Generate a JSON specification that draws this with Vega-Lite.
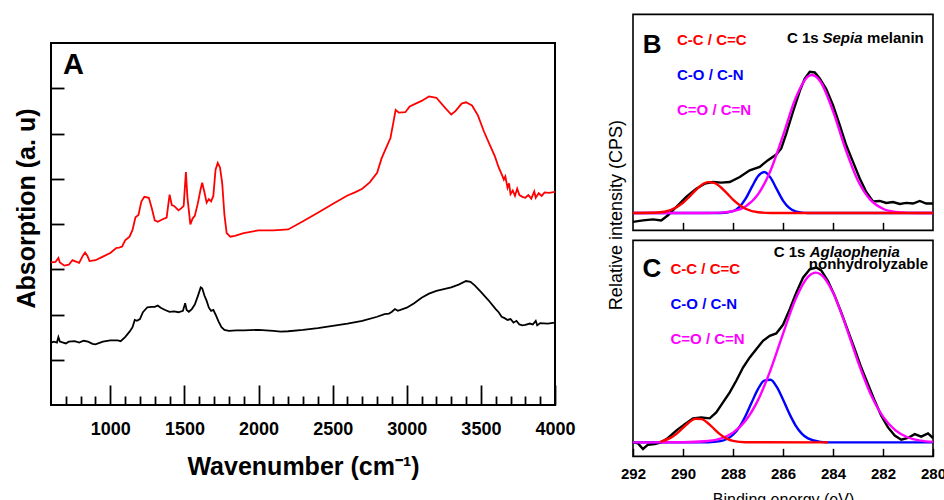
{
  "$schema": "https://vega.github.io/schema/vega-lite/v6.json",
  "padding": {"left": 12, "top": 13, "right": 0, "bottom": 0},
  "background": "white",
  "config": {
    "font": "Liberation Sans",
    "view": {"stroke": "black", "strokeWidth": 1.8},
    "axis": {"grid": false, "tickColor": "black", "labelColor": "black", "titleColor": "black", "domain": false}
  },
  "datasets": {
    "ftir": [
      {"sample": "Sample 1", "wavenumber": 600, "absorption": 3.15},
      {"sample": "Sample 1", "wavenumber": 630, "absorption": 3.16},
      {"sample": "Sample 1", "wavenumber": 650, "absorption": 3.25},
      {"sample": "Sample 1", "wavenumber": 660, "absorption": 3.15},
      {"sample": "Sample 1", "wavenumber": 690, "absorption": 3.08},
      {"sample": "Sample 1", "wavenumber": 720, "absorption": 3.1},
      {"sample": "Sample 1", "wavenumber": 745, "absorption": 3.2},
      {"sample": "Sample 1", "wavenumber": 760, "absorption": 3.18},
      {"sample": "Sample 1", "wavenumber": 790, "absorption": 3.14},
      {"sample": "Sample 1", "wavenumber": 815, "absorption": 3.3},
      {"sample": "Sample 1", "wavenumber": 830, "absorption": 3.37},
      {"sample": "Sample 1", "wavenumber": 845, "absorption": 3.3},
      {"sample": "Sample 1", "wavenumber": 860, "absorption": 3.18},
      {"sample": "Sample 1", "wavenumber": 900, "absorption": 3.2},
      {"sample": "Sample 1", "wavenumber": 950, "absorption": 3.28},
      {"sample": "Sample 1", "wavenumber": 1000, "absorption": 3.36},
      {"sample": "Sample 1", "wavenumber": 1040, "absorption": 3.47},
      {"sample": "Sample 1", "wavenumber": 1060, "absorption": 3.48},
      {"sample": "Sample 1", "wavenumber": 1080, "absorption": 3.5},
      {"sample": "Sample 1", "wavenumber": 1100, "absorption": 3.64},
      {"sample": "Sample 1", "wavenumber": 1130, "absorption": 3.72},
      {"sample": "Sample 1", "wavenumber": 1150, "absorption": 3.87},
      {"sample": "Sample 1", "wavenumber": 1170, "absorption": 4.15},
      {"sample": "Sample 1", "wavenumber": 1190, "absorption": 4.2},
      {"sample": "Sample 1", "wavenumber": 1210, "absorption": 4.5},
      {"sample": "Sample 1", "wavenumber": 1230, "absorption": 4.6},
      {"sample": "Sample 1", "wavenumber": 1260, "absorption": 4.58},
      {"sample": "Sample 1", "wavenumber": 1280, "absorption": 4.35},
      {"sample": "Sample 1", "wavenumber": 1300, "absorption": 4.08},
      {"sample": "Sample 1", "wavenumber": 1320, "absorption": 4.05},
      {"sample": "Sample 1", "wavenumber": 1350, "absorption": 4.1},
      {"sample": "Sample 1", "wavenumber": 1380, "absorption": 4.14},
      {"sample": "Sample 1", "wavenumber": 1400, "absorption": 4.65},
      {"sample": "Sample 1", "wavenumber": 1415, "absorption": 4.42},
      {"sample": "Sample 1", "wavenumber": 1430, "absorption": 4.4},
      {"sample": "Sample 1", "wavenumber": 1445, "absorption": 4.35},
      {"sample": "Sample 1", "wavenumber": 1460, "absorption": 4.3},
      {"sample": "Sample 1", "wavenumber": 1480, "absorption": 4.35},
      {"sample": "Sample 1", "wavenumber": 1495, "absorption": 4.4},
      {"sample": "Sample 1", "wavenumber": 1510, "absorption": 5.15},
      {"sample": "Sample 1", "wavenumber": 1520, "absorption": 4.6},
      {"sample": "Sample 1", "wavenumber": 1540, "absorption": 3.99},
      {"sample": "Sample 1", "wavenumber": 1555, "absorption": 4.12},
      {"sample": "Sample 1", "wavenumber": 1570, "absorption": 4.18},
      {"sample": "Sample 1", "wavenumber": 1590, "absorption": 4.45},
      {"sample": "Sample 1", "wavenumber": 1610, "absorption": 4.78},
      {"sample": "Sample 1", "wavenumber": 1620, "absorption": 4.91},
      {"sample": "Sample 1", "wavenumber": 1635, "absorption": 4.7},
      {"sample": "Sample 1", "wavenumber": 1650, "absorption": 4.47},
      {"sample": "Sample 1", "wavenumber": 1665, "absorption": 4.55},
      {"sample": "Sample 1", "wavenumber": 1680, "absorption": 4.5},
      {"sample": "Sample 1", "wavenumber": 1695, "absorption": 4.62},
      {"sample": "Sample 1", "wavenumber": 1710, "absorption": 5.2},
      {"sample": "Sample 1", "wavenumber": 1725, "absorption": 5.35},
      {"sample": "Sample 1", "wavenumber": 1740, "absorption": 5.25},
      {"sample": "Sample 1", "wavenumber": 1755, "absorption": 4.9},
      {"sample": "Sample 1", "wavenumber": 1770, "absorption": 4.2},
      {"sample": "Sample 1", "wavenumber": 1785, "absorption": 3.8},
      {"sample": "Sample 1", "wavenumber": 1810, "absorption": 3.72},
      {"sample": "Sample 1", "wavenumber": 1840, "absorption": 3.74},
      {"sample": "Sample 1", "wavenumber": 1900, "absorption": 3.8},
      {"sample": "Sample 1", "wavenumber": 2000, "absorption": 3.86},
      {"sample": "Sample 1", "wavenumber": 2100, "absorption": 3.86},
      {"sample": "Sample 1", "wavenumber": 2200, "absorption": 3.88},
      {"sample": "Sample 1", "wavenumber": 2300, "absorption": 4.06},
      {"sample": "Sample 1", "wavenumber": 2400, "absorption": 4.25},
      {"sample": "Sample 1", "wavenumber": 2500, "absorption": 4.44},
      {"sample": "Sample 1", "wavenumber": 2600, "absorption": 4.63},
      {"sample": "Sample 1", "wavenumber": 2650, "absorption": 4.7},
      {"sample": "Sample 1", "wavenumber": 2700, "absorption": 4.78},
      {"sample": "Sample 1", "wavenumber": 2750, "absorption": 4.92},
      {"sample": "Sample 1", "wavenumber": 2800, "absorption": 5.13},
      {"sample": "Sample 1", "wavenumber": 2830, "absorption": 5.45},
      {"sample": "Sample 1", "wavenumber": 2866, "absorption": 5.72},
      {"sample": "Sample 1", "wavenumber": 2890, "absorption": 5.9},
      {"sample": "Sample 1", "wavenumber": 2910, "absorption": 6.25},
      {"sample": "Sample 1", "wavenumber": 2925, "absorption": 6.52},
      {"sample": "Sample 1", "wavenumber": 2947, "absorption": 6.46},
      {"sample": "Sample 1", "wavenumber": 2990, "absorption": 6.47},
      {"sample": "Sample 1", "wavenumber": 3020, "absorption": 6.6},
      {"sample": "Sample 1", "wavenumber": 3060, "absorption": 6.66},
      {"sample": "Sample 1", "wavenumber": 3100, "absorption": 6.72},
      {"sample": "Sample 1", "wavenumber": 3150, "absorption": 6.82},
      {"sample": "Sample 1", "wavenumber": 3200, "absorption": 6.79},
      {"sample": "Sample 1", "wavenumber": 3250, "absorption": 6.6},
      {"sample": "Sample 1", "wavenumber": 3300, "absorption": 6.42},
      {"sample": "Sample 1", "wavenumber": 3330, "absorption": 6.5},
      {"sample": "Sample 1", "wavenumber": 3370, "absorption": 6.66},
      {"sample": "Sample 1", "wavenumber": 3400, "absorption": 6.69},
      {"sample": "Sample 1", "wavenumber": 3440, "absorption": 6.62},
      {"sample": "Sample 1", "wavenumber": 3480, "absorption": 6.4},
      {"sample": "Sample 1", "wavenumber": 3520, "absorption": 6.05},
      {"sample": "Sample 1", "wavenumber": 3560, "absorption": 5.75},
      {"sample": "Sample 1", "wavenumber": 3594, "absorption": 5.5},
      {"sample": "Sample 1", "wavenumber": 3620, "absorption": 5.25},
      {"sample": "Sample 1", "wavenumber": 3640, "absorption": 5.1},
      {"sample": "Sample 1", "wavenumber": 3655, "absorption": 4.98},
      {"sample": "Sample 1", "wavenumber": 3665, "absorption": 5.05},
      {"sample": "Sample 1", "wavenumber": 3680, "absorption": 4.8},
      {"sample": "Sample 1", "wavenumber": 3690, "absorption": 4.9},
      {"sample": "Sample 1", "wavenumber": 3700, "absorption": 4.66},
      {"sample": "Sample 1", "wavenumber": 3715, "absorption": 4.74},
      {"sample": "Sample 1", "wavenumber": 3730, "absorption": 4.62},
      {"sample": "Sample 1", "wavenumber": 3745, "absorption": 4.78},
      {"sample": "Sample 1", "wavenumber": 3760, "absorption": 4.64},
      {"sample": "Sample 1", "wavenumber": 3780, "absorption": 4.6},
      {"sample": "Sample 1", "wavenumber": 3800, "absorption": 4.58},
      {"sample": "Sample 1", "wavenumber": 3820, "absorption": 4.64},
      {"sample": "Sample 1", "wavenumber": 3840, "absorption": 4.56},
      {"sample": "Sample 1", "wavenumber": 3860, "absorption": 4.72},
      {"sample": "Sample 1", "wavenumber": 3870, "absorption": 4.58},
      {"sample": "Sample 1", "wavenumber": 3890, "absorption": 4.68},
      {"sample": "Sample 1", "wavenumber": 3910, "absorption": 4.62},
      {"sample": "Sample 1", "wavenumber": 3930, "absorption": 4.7},
      {"sample": "Sample 1", "wavenumber": 3960, "absorption": 4.69},
      {"sample": "Sample 1", "wavenumber": 4000, "absorption": 4.71},
      {"sample": "Sample 2", "wavenumber": 600, "absorption": 1.38},
      {"sample": "Sample 2", "wavenumber": 620, "absorption": 1.4},
      {"sample": "Sample 2", "wavenumber": 640, "absorption": 1.38},
      {"sample": "Sample 2", "wavenumber": 650, "absorption": 1.5},
      {"sample": "Sample 2", "wavenumber": 660, "absorption": 1.4},
      {"sample": "Sample 2", "wavenumber": 700, "absorption": 1.36},
      {"sample": "Sample 2", "wavenumber": 720, "absorption": 1.4},
      {"sample": "Sample 2", "wavenumber": 760, "absorption": 1.41},
      {"sample": "Sample 2", "wavenumber": 790, "absorption": 1.38},
      {"sample": "Sample 2", "wavenumber": 820, "absorption": 1.42},
      {"sample": "Sample 2", "wavenumber": 850, "absorption": 1.4},
      {"sample": "Sample 2", "wavenumber": 880, "absorption": 1.35},
      {"sample": "Sample 2", "wavenumber": 900, "absorption": 1.34},
      {"sample": "Sample 2", "wavenumber": 950, "absorption": 1.4},
      {"sample": "Sample 2", "wavenumber": 1000, "absorption": 1.43},
      {"sample": "Sample 2", "wavenumber": 1050, "absorption": 1.43},
      {"sample": "Sample 2", "wavenumber": 1070, "absorption": 1.41},
      {"sample": "Sample 2", "wavenumber": 1100, "absorption": 1.5},
      {"sample": "Sample 2", "wavenumber": 1130, "absorption": 1.62},
      {"sample": "Sample 2", "wavenumber": 1150, "absorption": 1.72},
      {"sample": "Sample 2", "wavenumber": 1165, "absorption": 1.88},
      {"sample": "Sample 2", "wavenumber": 1180, "absorption": 1.86},
      {"sample": "Sample 2", "wavenumber": 1200, "absorption": 1.9},
      {"sample": "Sample 2", "wavenumber": 1220, "absorption": 2.05},
      {"sample": "Sample 2", "wavenumber": 1250, "absorption": 2.16},
      {"sample": "Sample 2", "wavenumber": 1280, "absorption": 2.17},
      {"sample": "Sample 2", "wavenumber": 1300, "absorption": 2.17},
      {"sample": "Sample 2", "wavenumber": 1320, "absorption": 2.2},
      {"sample": "Sample 2", "wavenumber": 1340, "absorption": 2.15},
      {"sample": "Sample 2", "wavenumber": 1370, "absorption": 2.1},
      {"sample": "Sample 2", "wavenumber": 1400, "absorption": 2.06},
      {"sample": "Sample 2", "wavenumber": 1430, "absorption": 2.07},
      {"sample": "Sample 2", "wavenumber": 1460, "absorption": 2.05},
      {"sample": "Sample 2", "wavenumber": 1490, "absorption": 2.08},
      {"sample": "Sample 2", "wavenumber": 1505, "absorption": 2.25},
      {"sample": "Sample 2", "wavenumber": 1515, "absorption": 2.1},
      {"sample": "Sample 2", "wavenumber": 1530, "absorption": 2.06},
      {"sample": "Sample 2", "wavenumber": 1550, "absorption": 2.12},
      {"sample": "Sample 2", "wavenumber": 1570, "absorption": 2.22},
      {"sample": "Sample 2", "wavenumber": 1590, "absorption": 2.4},
      {"sample": "Sample 2", "wavenumber": 1610, "absorption": 2.6},
      {"sample": "Sample 2", "wavenumber": 1620, "absorption": 2.58},
      {"sample": "Sample 2", "wavenumber": 1635, "absorption": 2.42},
      {"sample": "Sample 2", "wavenumber": 1650, "absorption": 2.3},
      {"sample": "Sample 2", "wavenumber": 1665, "absorption": 2.15},
      {"sample": "Sample 2", "wavenumber": 1680, "absorption": 2.08},
      {"sample": "Sample 2", "wavenumber": 1695, "absorption": 2.1},
      {"sample": "Sample 2", "wavenumber": 1710, "absorption": 2.0},
      {"sample": "Sample 2", "wavenumber": 1730, "absorption": 1.85},
      {"sample": "Sample 2", "wavenumber": 1750, "absorption": 1.72},
      {"sample": "Sample 2", "wavenumber": 1770, "absorption": 1.66},
      {"sample": "Sample 2", "wavenumber": 1800, "absorption": 1.64},
      {"sample": "Sample 2", "wavenumber": 1850, "absorption": 1.65},
      {"sample": "Sample 2", "wavenumber": 1900, "absorption": 1.65},
      {"sample": "Sample 2", "wavenumber": 2000, "absorption": 1.66},
      {"sample": "Sample 2", "wavenumber": 2100, "absorption": 1.64},
      {"sample": "Sample 2", "wavenumber": 2150, "absorption": 1.62},
      {"sample": "Sample 2", "wavenumber": 2200, "absorption": 1.63},
      {"sample": "Sample 2", "wavenumber": 2300, "absorption": 1.66},
      {"sample": "Sample 2", "wavenumber": 2400, "absorption": 1.7},
      {"sample": "Sample 2", "wavenumber": 2500, "absorption": 1.75},
      {"sample": "Sample 2", "wavenumber": 2600, "absorption": 1.8},
      {"sample": "Sample 2", "wavenumber": 2700, "absorption": 1.86},
      {"sample": "Sample 2", "wavenumber": 2800, "absorption": 1.95},
      {"sample": "Sample 2", "wavenumber": 2850, "absorption": 2.01},
      {"sample": "Sample 2", "wavenumber": 2880, "absorption": 2.02},
      {"sample": "Sample 2", "wavenumber": 2900, "absorption": 2.06},
      {"sample": "Sample 2", "wavenumber": 2920, "absorption": 2.12},
      {"sample": "Sample 2", "wavenumber": 2940, "absorption": 2.08},
      {"sample": "Sample 2", "wavenumber": 3000, "absorption": 2.15},
      {"sample": "Sample 2", "wavenumber": 3050, "absorption": 2.25},
      {"sample": "Sample 2", "wavenumber": 3100, "absorption": 2.37},
      {"sample": "Sample 2", "wavenumber": 3150, "absorption": 2.46},
      {"sample": "Sample 2", "wavenumber": 3200, "absorption": 2.52},
      {"sample": "Sample 2", "wavenumber": 3250, "absorption": 2.56},
      {"sample": "Sample 2", "wavenumber": 3300, "absorption": 2.6},
      {"sample": "Sample 2", "wavenumber": 3350, "absorption": 2.66},
      {"sample": "Sample 2", "wavenumber": 3400, "absorption": 2.74},
      {"sample": "Sample 2", "wavenumber": 3430, "absorption": 2.72},
      {"sample": "Sample 2", "wavenumber": 3460, "absorption": 2.64},
      {"sample": "Sample 2", "wavenumber": 3500, "absorption": 2.5},
      {"sample": "Sample 2", "wavenumber": 3550, "absorption": 2.32},
      {"sample": "Sample 2", "wavenumber": 3600, "absorption": 2.12},
      {"sample": "Sample 2", "wavenumber": 3620, "absorption": 2.05},
      {"sample": "Sample 2", "wavenumber": 3640, "absorption": 1.95},
      {"sample": "Sample 2", "wavenumber": 3660, "absorption": 1.92},
      {"sample": "Sample 2", "wavenumber": 3680, "absorption": 1.88},
      {"sample": "Sample 2", "wavenumber": 3700, "absorption": 1.9},
      {"sample": "Sample 2", "wavenumber": 3720, "absorption": 1.82},
      {"sample": "Sample 2", "wavenumber": 3740, "absorption": 1.86},
      {"sample": "Sample 2", "wavenumber": 3760, "absorption": 1.78},
      {"sample": "Sample 2", "wavenumber": 3780, "absorption": 1.76},
      {"sample": "Sample 2", "wavenumber": 3800, "absorption": 1.77},
      {"sample": "Sample 2", "wavenumber": 3830, "absorption": 1.8},
      {"sample": "Sample 2", "wavenumber": 3850, "absorption": 1.78},
      {"sample": "Sample 2", "wavenumber": 3870, "absorption": 1.86},
      {"sample": "Sample 2", "wavenumber": 3880, "absorption": 1.76},
      {"sample": "Sample 2", "wavenumber": 3900, "absorption": 1.81},
      {"sample": "Sample 2", "wavenumber": 3950, "absorption": 1.8},
      {"sample": "Sample 2", "wavenumber": 4000, "absorption": 1.82}
    ],
    "xpsB": [
      {"component": "Measured", "energy": 292.0, "intensity": 0.039},
      {"component": "Measured", "energy": 291.6, "intensity": 0.046},
      {"component": "Measured", "energy": 291.2, "intensity": 0.051},
      {"component": "Measured", "energy": 290.87, "intensity": 0.046},
      {"component": "Measured", "energy": 290.6, "intensity": 0.07},
      {"component": "Measured", "energy": 290.27, "intensity": 0.108},
      {"component": "Measured", "energy": 289.87, "intensity": 0.155},
      {"component": "Measured", "energy": 289.47, "intensity": 0.193},
      {"component": "Measured", "energy": 289.13, "intensity": 0.216},
      {"component": "Measured", "energy": 288.8, "intensity": 0.224},
      {"component": "Measured", "energy": 288.47, "intensity": 0.221},
      {"component": "Measured", "energy": 288.13, "intensity": 0.224},
      {"component": "Measured", "energy": 287.73, "intensity": 0.247},
      {"component": "Measured", "energy": 287.33, "intensity": 0.278},
      {"component": "Measured", "energy": 286.93, "intensity": 0.294},
      {"component": "Measured", "energy": 286.6, "intensity": 0.325},
      {"component": "Measured", "energy": 286.27, "intensity": 0.351},
      {"component": "Measured", "energy": 286.07, "intensity": 0.379},
      {"component": "Measured", "energy": 285.87, "intensity": 0.448},
      {"component": "Measured", "energy": 285.6, "intensity": 0.549},
      {"component": "Measured", "energy": 285.33, "intensity": 0.645},
      {"component": "Measured", "energy": 285.13, "intensity": 0.703},
      {"component": "Measured", "energy": 284.93, "intensity": 0.734},
      {"component": "Measured", "energy": 284.73, "intensity": 0.731},
      {"component": "Measured", "energy": 284.53, "intensity": 0.703},
      {"component": "Measured", "energy": 284.27, "intensity": 0.654},
      {"component": "Measured", "energy": 284.0, "intensity": 0.58},
      {"component": "Measured", "energy": 283.73, "intensity": 0.487},
      {"component": "Measured", "energy": 283.47, "intensity": 0.394},
      {"component": "Measured", "energy": 283.2, "intensity": 0.317},
      {"component": "Measured", "energy": 282.93, "intensity": 0.24},
      {"component": "Measured", "energy": 282.67, "intensity": 0.178},
      {"component": "Measured", "energy": 282.4, "intensity": 0.134},
      {"component": "Measured", "energy": 282.13, "intensity": 0.136},
      {"component": "Measured", "energy": 281.87, "intensity": 0.127},
      {"component": "Measured", "energy": 281.6, "intensity": 0.131},
      {"component": "Measured", "energy": 281.33, "intensity": 0.122},
      {"component": "Measured", "energy": 281.07, "intensity": 0.127},
      {"component": "Measured", "energy": 280.8, "intensity": 0.124},
      {"component": "Measured", "energy": 280.53, "intensity": 0.136},
      {"component": "Measured", "energy": 280.27, "intensity": 0.124},
      {"component": "Measured", "energy": 280.0, "intensity": 0.124},
      {"component": "C-C / C=C", "energy": 292.0, "intensity": 0.08},
      {"component": "C-C / C=C", "energy": 291.0, "intensity": 0.0823},
      {"component": "C-C / C=C", "energy": 290.5, "intensity": 0.0934},
      {"component": "C-C / C=C", "energy": 290.0, "intensity": 0.1277},
      {"component": "C-C / C=C", "energy": 289.75, "intensity": 0.1553},
      {"component": "C-C / C=C", "energy": 289.5, "intensity": 0.1853},
      {"component": "C-C / C=C", "energy": 289.25, "intensity": 0.2105},
      {"component": "C-C / C=C", "energy": 289.0, "intensity": 0.2233},
      {"component": "C-C / C=C", "energy": 288.75, "intensity": 0.2196},
      {"component": "C-C / C=C", "energy": 288.5, "intensity": 0.2005},
      {"component": "C-C / C=C", "energy": 288.25, "intensity": 0.1722},
      {"component": "C-C / C=C", "energy": 288.0, "intensity": 0.1425},
      {"component": "C-C / C=C", "energy": 287.5, "intensity": 0.1},
      {"component": "C-C / C=C", "energy": 287.0, "intensity": 0.084},
      {"component": "C-C / C=C", "energy": 286.5, "intensity": 0.0805},
      {"component": "C-C / C=C", "energy": 280.0, "intensity": 0.08},
      {"component": "C-O / C-N", "energy": 292.0, "intensity": 0.08},
      {"component": "C-O / C-N", "energy": 288.5, "intensity": 0.0805},
      {"component": "C-O / C-N", "energy": 288.0, "intensity": 0.0892},
      {"component": "C-O / C-N", "energy": 287.75, "intensity": 0.1078},
      {"component": "C-O / C-N", "energy": 287.5, "intensity": 0.1455},
      {"component": "C-O / C-N", "energy": 287.25, "intensity": 0.1999},
      {"component": "C-O / C-N", "energy": 287.0, "intensity": 0.2509},
      {"component": "C-O / C-N", "energy": 286.75, "intensity": 0.2698},
      {"component": "C-O / C-N", "energy": 286.5, "intensity": 0.2442},
      {"component": "C-O / C-N", "energy": 286.25, "intensity": 0.1906},
      {"component": "C-O / C-N", "energy": 286.0, "intensity": 0.138},
      {"component": "C-O / C-N", "energy": 285.75, "intensity": 0.1037},
      {"component": "C-O / C-N", "energy": 285.5, "intensity": 0.0875},
      {"component": "C-O / C-N", "energy": 285.25, "intensity": 0.0819},
      {"component": "C-O / C-N", "energy": 285.0, "intensity": 0.08},
      {"component": "C-O / C-N", "energy": 280.0, "intensity": 0.08},
      {"component": "C=O / C=N", "energy": 292.0, "intensity": 0.08},
      {"component": "C=O / C=N", "energy": 289.0, "intensity": 0.0804},
      {"component": "C=O / C=N", "energy": 288.5, "intensity": 0.082},
      {"component": "C=O / C=N", "energy": 288.0, "intensity": 0.0888},
      {"component": "C=O / C=N", "energy": 287.5, "intensity": 0.1108},
      {"component": "C=O / C=N", "energy": 287.0, "intensity": 0.1665},
      {"component": "C=O / C=N", "energy": 286.5, "intensity": 0.2762},
      {"component": "C=O / C=N", "energy": 286.0, "intensity": 0.4389},
      {"component": "C=O / C=N", "energy": 285.5, "intensity": 0.6102},
      {"component": "C=O / C=N", "energy": 285.0, "intensity": 0.712},
      {"component": "C=O / C=N", "energy": 284.84, "intensity": 0.719},
      {"component": "C=O / C=N", "energy": 284.5, "intensity": 0.6881},
      {"component": "C=O / C=N", "energy": 284.0, "intensity": 0.5522},
      {"component": "C=O / C=N", "energy": 283.5, "intensity": 0.376},
      {"component": "C=O / C=N", "energy": 283.0, "intensity": 0.2297},
      {"component": "C=O / C=N", "energy": 282.5, "intensity": 0.1411},
      {"component": "C=O / C=N", "energy": 282.0, "intensity": 0.1001},
      {"component": "C=O / C=N", "energy": 281.5, "intensity": 0.0854},
      {"component": "C=O / C=N", "energy": 281.0, "intensity": 0.0811},
      {"component": "C=O / C=N", "energy": 280.0, "intensity": 0.08}
    ],
    "xpsC": [
      {"component": "Measured", "energy": 292.0, "intensity": 0.0647},
      {"component": "Measured", "energy": 291.8, "intensity": 0.06},
      {"component": "Measured", "energy": 291.6, "intensity": 0.034},
      {"component": "Measured", "energy": 291.4, "intensity": 0.054},
      {"component": "Measured", "energy": 291.13, "intensity": 0.057},
      {"component": "Measured", "energy": 290.87, "intensity": 0.065},
      {"component": "Measured", "energy": 290.6, "intensity": 0.085},
      {"component": "Measured", "energy": 290.27, "intensity": 0.119},
      {"component": "Measured", "energy": 289.93, "intensity": 0.149},
      {"component": "Measured", "energy": 289.6, "intensity": 0.176},
      {"component": "Measured", "energy": 289.27, "intensity": 0.18},
      {"component": "Measured", "energy": 288.93, "intensity": 0.176},
      {"component": "Measured", "energy": 288.67, "intensity": 0.203},
      {"component": "Measured", "energy": 288.4, "intensity": 0.25},
      {"component": "Measured", "energy": 288.13, "intensity": 0.296},
      {"component": "Measured", "energy": 287.87, "intensity": 0.35},
      {"component": "Measured", "energy": 287.6, "intensity": 0.411},
      {"component": "Measured", "energy": 287.33, "intensity": 0.458},
      {"component": "Measured", "energy": 287.07, "intensity": 0.496},
      {"component": "Measured", "energy": 286.8, "intensity": 0.535},
      {"component": "Measured", "energy": 286.53, "intensity": 0.558},
      {"component": "Measured", "energy": 286.27, "intensity": 0.569},
      {"component": "Measured", "energy": 286.0, "intensity": 0.609},
      {"component": "Measured", "energy": 285.73, "intensity": 0.681},
      {"component": "Measured", "energy": 285.47, "intensity": 0.758},
      {"component": "Measured", "energy": 285.2, "intensity": 0.827},
      {"component": "Measured", "energy": 284.93, "intensity": 0.866},
      {"component": "Measured", "energy": 284.67, "intensity": 0.874},
      {"component": "Measured", "energy": 284.47, "intensity": 0.861},
      {"component": "Measured", "energy": 284.2, "intensity": 0.812},
      {"component": "Measured", "energy": 283.93, "intensity": 0.743},
      {"component": "Measured", "energy": 283.67, "intensity": 0.666},
      {"component": "Measured", "energy": 283.4, "intensity": 0.581},
      {"component": "Measured", "energy": 283.13, "intensity": 0.496},
      {"component": "Measured", "energy": 282.87, "intensity": 0.411},
      {"component": "Measured", "energy": 282.6, "intensity": 0.334},
      {"component": "Measured", "energy": 282.33, "intensity": 0.257},
      {"component": "Measured", "energy": 282.07, "intensity": 0.188},
      {"component": "Measured", "energy": 281.8, "intensity": 0.134},
      {"component": "Measured", "energy": 281.53, "intensity": 0.096},
      {"component": "Measured", "energy": 281.27, "intensity": 0.077},
      {"component": "Measured", "energy": 281.0, "intensity": 0.085},
      {"component": "Measured", "energy": 280.73, "intensity": 0.103},
      {"component": "Measured", "energy": 280.47, "intensity": 0.091},
      {"component": "Measured", "energy": 280.2, "intensity": 0.106},
      {"component": "Measured", "energy": 280.0, "intensity": 0.085},
      {"component": "C-C / C=C", "energy": 290.9, "intensity": 0.0675},
      {"component": "C-C / C=C", "energy": 290.5, "intensity": 0.0854},
      {"component": "C-C / C=C", "energy": 290.25, "intensity": 0.1054},
      {"component": "C-C / C=C", "energy": 290.0, "intensity": 0.132},
      {"component": "C-C / C=C", "energy": 289.75, "intensity": 0.1583},
      {"component": "C-C / C=C", "energy": 289.5, "intensity": 0.1742},
      {"component": "C-C / C=C", "energy": 289.25, "intensity": 0.1723},
      {"component": "C-C / C=C", "energy": 289.0, "intensity": 0.1535},
      {"component": "C-C / C=C", "energy": 288.75, "intensity": 0.1264},
      {"component": "C-C / C=C", "energy": 288.5, "intensity": 0.1007},
      {"component": "C-C / C=C", "energy": 288.25, "intensity": 0.0824},
      {"component": "C-C / C=C", "energy": 288.0, "intensity": 0.072},
      {"component": "C-C / C=C", "energy": 287.5, "intensity": 0.0654},
      {"component": "C-C / C=C", "energy": 284.2, "intensity": 0.0647},
      {"component": "C-O / C-N", "energy": 292.0, "intensity": 0.0647},
      {"component": "C-O / C-N", "energy": 289.0, "intensity": 0.0653},
      {"component": "C-O / C-N", "energy": 288.5, "intensity": 0.0706},
      {"component": "C-O / C-N", "energy": 288.0, "intensity": 0.1},
      {"component": "C-O / C-N", "energy": 287.75, "intensity": 0.1348},
      {"component": "C-O / C-N", "energy": 287.5, "intensity": 0.1868},
      {"component": "C-O / C-N", "energy": 287.25, "intensity": 0.2503},
      {"component": "C-O / C-N", "energy": 287.0, "intensity": 0.3111},
      {"component": "C-O / C-N", "energy": 286.75, "intensity": 0.3507},
      {"component": "C-O / C-N", "energy": 286.5, "intensity": 0.3545},
      {"component": "C-O / C-N", "energy": 286.25, "intensity": 0.3214},
      {"component": "C-O / C-N", "energy": 286.0, "intensity": 0.2633},
      {"component": "C-O / C-N", "energy": 285.75, "intensity": 0.1989},
      {"component": "C-O / C-N", "energy": 285.5, "intensity": 0.1439},
      {"component": "C-O / C-N", "energy": 285.25, "intensity": 0.1055},
      {"component": "C-O / C-N", "energy": 285.0, "intensity": 0.0831},
      {"component": "C-O / C-N", "energy": 284.5, "intensity": 0.0672},
      {"component": "C-O / C-N", "energy": 284.0, "intensity": 0.0647},
      {"component": "C-O / C-N", "energy": 280.0, "intensity": 0.0647},
      {"component": "C=O / C=N", "energy": 292.0, "intensity": 0.0647},
      {"component": "C=O / C=N", "energy": 291.0, "intensity": 0.0648},
      {"component": "C=O / C=N", "energy": 290.0, "intensity": 0.0652},
      {"component": "C=O / C=N", "energy": 289.0, "intensity": 0.0709},
      {"component": "C=O / C=N", "energy": 288.5, "intensity": 0.0825},
      {"component": "C=O / C=N", "energy": 288.0, "intensity": 0.1099},
      {"component": "C=O / C=N", "energy": 287.5, "intensity": 0.165},
      {"component": "C=O / C=N", "energy": 287.0, "intensity": 0.2603},
      {"component": "C=O / C=N", "energy": 286.5, "intensity": 0.3993},
      {"component": "C=O / C=N", "energy": 286.0, "intensity": 0.5672},
      {"component": "C=O / C=N", "energy": 285.5, "intensity": 0.7273},
      {"component": "C=O / C=N", "energy": 285.0, "intensity": 0.831},
      {"component": "C=O / C=N", "energy": 284.69, "intensity": 0.8507},
      {"component": "C=O / C=N", "energy": 284.5, "intensity": 0.8433},
      {"component": "C=O / C=N", "energy": 284.0, "intensity": 0.7588},
      {"component": "C=O / C=N", "energy": 283.5, "intensity": 0.6078},
      {"component": "C=O / C=N", "energy": 283.0, "intensity": 0.438},
      {"component": "C=O / C=N", "energy": 282.5, "intensity": 0.29},
      {"component": "C=O / C=N", "energy": 282.0, "intensity": 0.1839},
      {"component": "C=O / C=N", "energy": 281.5, "intensity": 0.12},
      {"component": "C=O / C=N", "energy": 281.0, "intensity": 0.0873},
      {"component": "C=O / C=N", "energy": 280.5, "intensity": 0.0728},
      {"component": "C=O / C=N", "energy": 280.0, "intensity": 0.0672}
    ]
  },
  "center": true,
  "spacing": 30,
  "hconcat": [
    {
      "width": 504,
      "height": 362,
      "view": {"stroke": "black", "strokeWidth": 2},
      "layer": [
        {
          "data": {"name": "ftir"},
          "mark": {"type": "line", "strokeWidth": 1.8},
          "encoding": {
            "x": {
              "field": "wavenumber", "type": "quantitative",
              "scale": {"domain": [600, 4000], "nice": false, "zero": false},
              "axis": {
                "values": [700, 800, 900, 1000, 1100, 1200, 1300, 1400, 1500, 1600, 1700, 1800, 1900, 2000, 2100, 2200, 2300, 2400, 2500, 2600, 2700, 2800, 2900, 3000, 3100, 3200, 3300, 3400, 3500, 3600, 3700, 3800, 3900, 4000],
                "tickCount": 100,
                "tickSize": {"condition": {"test": "datum.value % 500 === 0", "value": -20}, "value": -9},
                "tickWidth": 1.8,
                "labelExpr": "datum.value % 500 === 0 ? datum.label : ''",
                "format": "d",
                "labelPadding": 35,
                "labelFontSize": 18,
                "labelFontWeight": "bold",
                "labelFlush": false,
                "labelOverlap": false,
                "title": "Wavenumber (cm⁻¹)",
                "titleFontSize": 25,
                "titleFontWeight": "bold",
                "titleBaseline": "top",
                "titleY": 49,
                "titleX": 252
              }
            },
            "y": {
              "field": "absorption", "type": "quantitative",
              "scale": {"domain": [0, 8], "nice": false},
              "axis": {
                "values": [1, 2, 3, 4, 5, 6, 7],
                "tickSize": -13,
                "tickWidth": 1.8,
                "labels": false,
                "title": "Absorption (a. u)",
                "titleFontSize": 25,
                "titleFontWeight": "bold",
                "titleAngle": 270,
                "titleAlign": "center",
                "titleBaseline": "bottom",
                "titleX": -12,
                "titleY": 165
              }
            },
            "color": {
              "field": "sample", "type": "nominal",
              "scale": {"domain": ["Sample 1", "Sample 2"], "range": ["#ff0000", "#000000"]},
              "legend": null
            }
          }
        },
        {
          "data": {"values": [{}]},
          "mark": {"type": "text", "align": "left", "baseline": "alphabetic", "fontSize": 29, "fontWeight": "bold", "color": "black"},
          "encoding": {
            "x": {"datum": 681, "type": "quantitative"},
            "y": {"datum": 7.31, "type": "quantitative"},
            "text": {"value": "A"}
          }
        }
      ]
    },
    {
      "spacing": 7,
      "title": {"text": "Relative intensity (CPS)", "orient": "left", "anchor": "middle", "fontSize": 18, "fontWeight": "normal", "offset": -6, "dx": 46, "color": "black"},
      "vconcat": [
        {
          "width": 300,
          "height": 216,
          "view": {"stroke": "black", "strokeWidth": 1.6},
          "layer": [
            {"data": {"name": "xpsB"}, "transform": [{"filter": "datum.component === 'Measured'"}], "mark": {"type": "line", "color": "black", "strokeWidth": 2.4},
             "encoding": {
               "x": {"field": "energy", "type": "quantitative", "scale": {"domain": [280, 292], "reverse": true, "nice": false, "zero": false},
                     "axis": {"values": [290, 288, 286, 284, 282], "tickSize": -8, "tickWidth": 1.5, "labels": false, "title": null}},
               "y": {"field": "intensity", "type": "quantitative", "scale": {"domain": [0, 1], "nice": false}, "axis": null}}},
            {"data": {"name": "xpsB"}, "transform": [{"filter": "datum.component === 'C-O / C-N'"}], "mark": {"type": "line", "color": "#0000ff", "strokeWidth": 2.4, "interpolate": "monotone"},
             "encoding": {"x": {"field": "energy", "type": "quantitative"}, "y": {"field": "intensity", "type": "quantitative"}}},
            {"data": {"name": "xpsB"}, "transform": [{"filter": "datum.component === 'C=O / C=N'"}], "mark": {"type": "line", "color": "#ff00ff", "strokeWidth": 2.4, "interpolate": "monotone"},
             "encoding": {"x": {"field": "energy", "type": "quantitative"}, "y": {"field": "intensity", "type": "quantitative"}}},
            {"data": {"name": "xpsB"}, "transform": [{"filter": "datum.component === 'C-C / C=C'"}], "mark": {"type": "line", "color": "#ff0000", "strokeWidth": 2.4, "interpolate": "monotone"},
             "encoding": {"x": {"field": "energy", "type": "quantitative"}, "y": {"field": "intensity", "type": "quantitative"}}},
            {"data": {"values": [{}]}, "mark": {"type": "text", "align": "left", "fontSize": 26, "fontWeight": "bold", "color": "black"},
             "encoding": {"x": {"datum": 291.61, "type": "quantitative"}, "y": {"datum": 0.858, "type": "quantitative"}, "text": {"value": "B"}}},
            {"data": {"values": [{}]}, "mark": {"type": "text", "align": "left", "fontSize": 15, "fontWeight": "bold", "color": "#ff0000"},
             "encoding": {"x": {"datum": 290.24, "type": "quantitative"}, "y": {"datum": 0.881, "type": "quantitative"}, "text": {"value": "C-C / C=C"}}},
            {"data": {"values": [{}]}, "mark": {"type": "text", "align": "left", "fontSize": 15, "fontWeight": "bold", "color": "#0000ff"},
             "encoding": {"x": {"datum": 290.24, "type": "quantitative"}, "y": {"datum": 0.719, "type": "quantitative"}, "text": {"value": "C-O / C-N"}}},
            {"data": {"values": [{}]}, "mark": {"type": "text", "align": "left", "fontSize": 15, "fontWeight": "bold", "color": "#ff00ff"},
             "encoding": {"x": {"datum": 290.24, "type": "quantitative"}, "y": {"datum": 0.557, "type": "quantitative"}, "text": {"value": "C=O / C=N"}}},
            {"data": {"values": [{}]}, "mark": {"type": "text", "align": "left", "fontSize": 15, "fontWeight": "bold", "color": "black"},
             "encoding": {"x": {"datum": 285.84, "type": "quantitative"}, "y": {"datum": 0.889, "type": "quantitative"}, "text": {"value": "C 1s"}}},
            {"data": {"values": [{}]}, "mark": {"type": "text", "align": "left", "fontSize": 15, "fontWeight": "bold", "fontStyle": "italic", "color": "black"},
             "encoding": {"x": {"datum": 284.42, "type": "quantitative"}, "y": {"datum": 0.889, "type": "quantitative"}, "text": {"value": "Sepia"}}},
            {"data": {"values": [{}]}, "mark": {"type": "text", "align": "right", "fontSize": 15, "fontWeight": "bold", "color": "black"},
             "encoding": {"x": {"datum": 280.37, "type": "quantitative"}, "y": {"datum": 0.889, "type": "quantitative"}, "text": {"value": "melanin"}}}
          ]
        },
        {
          "width": 300,
          "height": 216,
          "view": {"stroke": "black", "strokeWidth": 1.6},
          "layer": [
            {"data": {"name": "xpsC"}, "transform": [{"filter": "datum.component === 'Measured'"}], "mark": {"type": "line", "color": "black", "strokeWidth": 2.4},
             "encoding": {
               "x": {"field": "energy", "type": "quantitative", "scale": {"domain": [280, 292], "reverse": true, "nice": false, "zero": false},
                     "axis": {
                       "values": [292, 290, 288, 286, 284, 282, 280],
                       "tickCount": 20,
                       "format": "d",
                       "tickSize": -8, "tickWidth": 1.5,
                       "labelPadding": 18, "labelFontSize": 15, "labelFontWeight": "bold",
                       "labelFlush": false, "labelOverlap": false,
                       "title": "Binding energy (eV)", "titleFontSize": 16, "titleFontWeight": "normal",
                       "titleBaseline": "top", "titleY": 35.5}},
               "y": {"field": "intensity", "type": "quantitative", "scale": {"domain": [0, 1], "nice": false}, "axis": null}}},
            {"data": {"name": "xpsC"}, "transform": [{"filter": "datum.component === 'C-O / C-N'"}], "mark": {"type": "line", "color": "#0000ff", "strokeWidth": 2.4, "interpolate": "monotone"},
             "encoding": {"x": {"field": "energy", "type": "quantitative"}, "y": {"field": "intensity", "type": "quantitative"}}},
            {"data": {"name": "xpsC"}, "transform": [{"filter": "datum.component === 'C=O / C=N'"}], "mark": {"type": "line", "color": "#ff00ff", "strokeWidth": 2.4, "interpolate": "monotone"},
             "encoding": {"x": {"field": "energy", "type": "quantitative"}, "y": {"field": "intensity", "type": "quantitative"}}},
            {"data": {"name": "xpsC"}, "transform": [{"filter": "datum.component === 'C-C / C=C'"}], "mark": {"type": "line", "color": "#ff0000", "strokeWidth": 2.4, "interpolate": "monotone"},
             "encoding": {"x": {"field": "energy", "type": "quantitative"}, "y": {"field": "intensity", "type": "quantitative"}}},
            {"data": {"values": [{}]}, "mark": {"type": "text", "align": "left", "fontSize": 26, "fontWeight": "bold", "color": "black"},
             "encoding": {"x": {"datum": 291.62, "type": "quantitative"}, "y": {"datum": 0.866, "type": "quantitative"}, "text": {"value": "C"}}},
            {"data": {"values": [{}]}, "mark": {"type": "text", "align": "left", "fontSize": 15, "fontWeight": "bold", "color": "#ff0000"},
             "encoding": {"x": {"datum": 290.5, "type": "quantitative"}, "y": {"datum": 0.869, "type": "quantitative"}, "text": {"value": "C-C / C=C"}}},
            {"data": {"values": [{}]}, "mark": {"type": "text", "align": "left", "fontSize": 15, "fontWeight": "bold", "color": "#0000ff"},
             "encoding": {"x": {"datum": 290.5, "type": "quantitative"}, "y": {"datum": 0.704, "type": "quantitative"}, "text": {"value": "C-O / C-N"}}},
            {"data": {"values": [{}]}, "mark": {"type": "text", "align": "left", "fontSize": 15, "fontWeight": "bold", "color": "#ff00ff"},
             "encoding": {"x": {"datum": 290.5, "type": "quantitative"}, "y": {"datum": 0.545, "type": "quantitative"}, "text": {"value": "C=O / C=N"}}},
            {"data": {"values": [{}]}, "mark": {"type": "text", "align": "left", "fontSize": 15, "fontWeight": "bold", "color": "black"},
             "encoding": {"x": {"datum": 286.37, "type": "quantitative"}, "y": {"datum": 0.948, "type": "quantitative"}, "text": {"value": "C 1s"}}},
            {"data": {"values": [{}]}, "mark": {"type": "text", "align": "left", "fontSize": 15, "fontWeight": "bold", "fontStyle": "italic", "color": "black"},
             "encoding": {"x": {"datum": 284.93, "type": "quantitative"}, "y": {"datum": 0.948, "type": "quantitative"}, "text": {"value": "Aglaophenia"}}},
            {"data": {"values": [{}]}, "mark": {"type": "text", "align": "right", "fontSize": 15, "fontWeight": "bold", "color": "black"},
             "encoding": {"x": {"datum": 280.2, "type": "quantitative"}, "y": {"datum": 0.892, "type": "quantitative"}, "text": {"value": "nonhydrolyzable"}}}
          ]
        }
      ]
    }
  ]
}
